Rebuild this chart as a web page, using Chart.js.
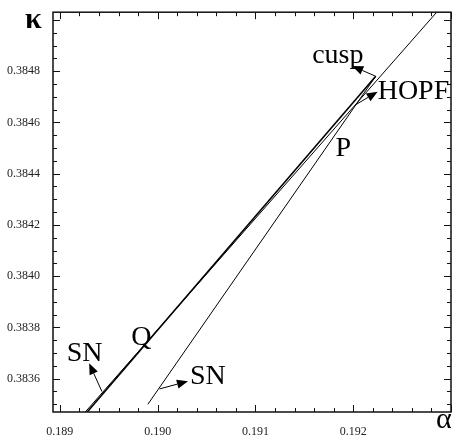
<!DOCTYPE html>
<html>
<head>
<meta charset="utf-8">
<script src="https://cdn.jsdelivr.net/npm/chart.js@4.4.0/dist/chart.umd.min.js"></script>
<style>
  body { margin: 0; background: #fff; }
  #wrap { width: 455px; height: 435px; position: relative; }
</style>
</head>
<body>
<div id="wrap"><canvas id="chart"></canvas></div>
<script>
// axis ticks
const xTicks = [0.189, 0.190, 0.191, 0.192];
const yTicks = [0.3836, 0.3838, 0.3840, 0.3842, 0.3844, 0.3846, 0.3848];

// curves (alpha, kappa)
const snLeftX = [0.18928, 0.19223];
const snLeftY = [0.38347, 0.38478];
const snRightX = [0.18990, 0.19223];
const snRightY = [0.38350, 0.38478];
const hopfX = [0.18926, 0.19290];
const hopfY = [0.38347, 0.38505];

// annotations
const labelText = ['cusp', 'HOPF', 'P', 'Q', 'SN', 'SN'];
const labelX = [0.19158, 0.19225, 0.19182, 0.18973, 0.18907, 0.19033];
const labelY = [0.38483, 0.38469, 0.38447, 0.38373, 0.38367, 0.38358];
const arrowFromX = [0.19223, 0.19203, 0.18943, 0.19002];
const arrowFromY = [0.38478, 0.38467, 0.38355, 0.38356];
const arrowToX = [0.19199, 0.19225, 0.18930, 0.19031];
const arrowToY = [0.38482, 0.38472, 0.38366, 0.38359];

const toPoints = (xs, ys) => xs.map((x, i) => ({ x: x, y: ys[i] }));

const line = (xs, ys, w) => ({
  data: toPoints(xs, ys),
  showLine: true,
  borderColor: '#000',
  borderWidth: w,
  pointRadius: 0,
  fill: false
});

const serif = '"Liberation Serif", "DejaVu Serif", serif';

// inward ticks on all four sides, the box, labels and arrows
const decor = {
  id: 'decor',
  afterDraw(chart) {
    const ctx = chart.ctx;
    const a = chart.chartArea;
    const xs = chart.scales.x, ys = chart.scales.y;
    ctx.save();
    ctx.strokeStyle = '#111';
    ctx.lineWidth = 1;

    const xStep = 0.0002, yStep = 0.00005;
    for (let i = Math.ceil(xs.min / xStep); i <= Math.floor(xs.max / xStep); i++) {
      const v = i * xStep;
      const major = Math.abs(v / 0.001 - Math.round(v / 0.001)) < 1e-6;
      const len = major ? 7 : 4;
      const px = Math.round(xs.getPixelForValue(v)) + 0.5;
      ctx.beginPath();
      ctx.moveTo(px, a.bottom); ctx.lineTo(px, a.bottom - len);
      ctx.moveTo(px, a.top); ctx.lineTo(px, a.top + len);
      ctx.stroke();
    }
    for (let i = Math.ceil(ys.min / yStep); i <= Math.floor(ys.max / yStep); i++) {
      const v = i * yStep;
      const major = Math.abs(v / 0.0002 - Math.round(v / 0.0002)) < 1e-6;
      const len = major ? 7 : 4;
      const py = Math.round(ys.getPixelForValue(v)) + 0.5;
      ctx.beginPath();
      ctx.moveTo(a.left, py); ctx.lineTo(a.left + len, py);
      ctx.moveTo(a.right, py); ctx.lineTo(a.right - len, py);
      ctx.stroke();
    }

    ctx.lineWidth = 1.5;
    ctx.strokeRect(a.left, a.top, a.right - a.left, a.bottom - a.top);

    // arrows
    ctx.fillStyle = '#000';
    ctx.strokeStyle = '#000';
    ctx.lineWidth = 1;
    arrowFromX.forEach((fx, i) => {
      const x0 = xs.getPixelForValue(fx), y0 = ys.getPixelForValue(arrowFromY[i]);
      const x1 = xs.getPixelForValue(arrowToX[i]), y1 = ys.getPixelForValue(arrowToY[i]);
      const ang = Math.atan2(y1 - y0, x1 - x0);
      const hl = 11, hw = 4.5;
      const bx = x1 - hl * Math.cos(ang), by = y1 - hl * Math.sin(ang);
      ctx.beginPath();
      ctx.moveTo(x0, y0); ctx.lineTo(bx, by);
      ctx.stroke();
      ctx.beginPath();
      ctx.moveTo(x1, y1);
      ctx.lineTo(bx + hw * Math.sin(ang), by - hw * Math.cos(ang));
      ctx.lineTo(bx - hw * Math.sin(ang), by + hw * Math.cos(ang));
      ctx.closePath();
      ctx.fill();
    });

    // curve labels
    ctx.font = '28px ' + serif;
    ctx.textAlign = 'left';
    ctx.textBaseline = 'alphabetic';
    labelText.forEach((t, i) => {
      ctx.fillText(t, xs.getPixelForValue(labelX[i]), ys.getPixelForValue(labelY[i]));
    });

    // axis names
    ctx.font = 'bold 30px ' + serif;
    ctx.fillText('\u03BA', 25, 28);
    ctx.font = '30px ' + serif;
    ctx.fillText('\u03B1', 436, 428);
    ctx.restore();
  }
};

new Chart(document.getElementById('chart').getContext('2d'), {
  type: 'scatter',
  data: {
    datasets: [
      line(snLeftX, snLeftY, 1.6),
      line(snRightX, snRightY, 1),
      line(hopfX, hopfY, 1)
    ]
  },
  options: {
    responsive: true,
    maintainAspectRatio: false,
    animation: false,
    layout: { padding: { top: 5, right: 4, left: 0, bottom: 0 } },
    plugins: { legend: { display: false }, tooltip: { enabled: false } },
    scales: {
      x: {
        type: 'linear',
        min: 0.18893,
        max: 0.193,
        grid: { display: false },
        border: { display: false },
        afterBuildTicks: s => { s.ticks = xTicks.map(v => ({ value: v })); },
        afterFit: s => { s.height = 23; },
        ticks: {
          padding: 5,
          maxRotation: 0,
          color: '#222',
          font: { family: serif, size: 12 },
          callback: v => v.toFixed(3)
        }
      },
      y: {
        type: 'linear',
        min: 0.38347,
        max: 0.38503,
        grid: { display: false },
        border: { display: false },
        afterBuildTicks: s => { s.ticks = yTicks.map(v => ({ value: v })); },
        afterFit: s => { s.width = 53; },
        ticks: {
          padding: 5,
          color: '#222',
          font: { family: serif, size: 12 },
          callback: v => v.toFixed(4)
        }
      }
    }
  },
  plugins: [decor]
});
</script>
</body>
</html>
